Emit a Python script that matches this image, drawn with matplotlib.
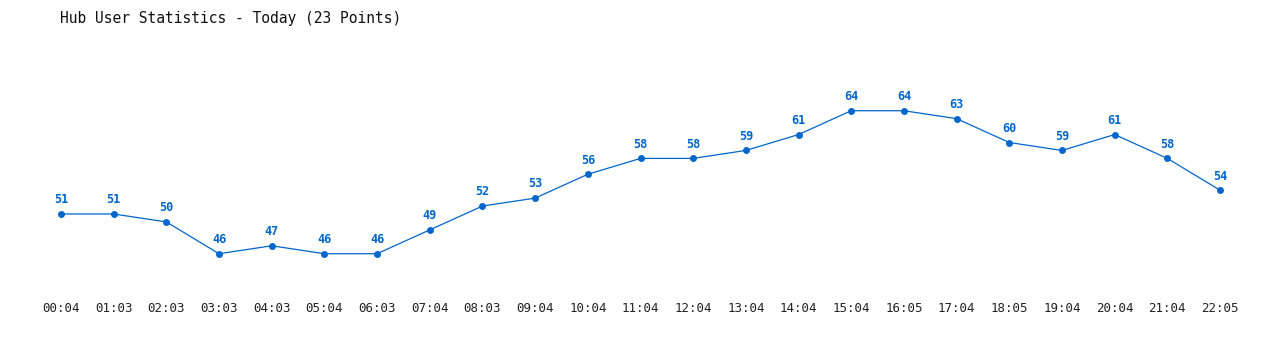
import matplotlib
matplotlib.use("Agg")
import matplotlib.pyplot as plt
import matplotlib.transforms as mtransforms

times = ["00:04", "01:03", "02:03", "03:03", "04:03", "05:04", "06:03", "07:04",
         "08:03", "09:04", "10:04", "11:04", "12:04", "13:04", "14:04", "15:04",
         "16:05", "17:04", "18:05", "19:04", "20:04", "21:04", "22:05"]
users = [51, 51, 50, 46, 47, 46, 46, 49, 52, 53, 56, 58, 58, 59, 61, 64, 64, 63,
         60, 59, 61, 58, 54]
title = "Hub User Statistics - Today (23 Points)"

color = "#0066CC"
W, H = 1280, 350
fig = plt.figure(figsize=(W / 100, H / 100), dpi=100)
ax = fig.add_axes([0, 0, 1, 1])

x0_px, dx_px = 61, (1220 - 61) / 22
y51_px, dy_px = 214, (254 - 111) / 18
ax.set_xlim(-x0_px / dx_px, (W - x0_px) / dx_px)
ax.set_ylim(51 - (H - y51_px) / dy_px, 51 + y51_px / dy_px)
ax.axis("off")

xs = list(range(len(users)))
ax.plot(xs, users, color=color, linewidth=0.9, marker="o", markersize=5,
        markeredgewidth=0)

for x, v in zip(xs, users):
    ax.annotate(str(v), (x, v), xytext=(0, 5.5), textcoords="offset points",
                ha="center", va="bottom", color=color, fontsize=8.5,
                fontweight="bold", family="DejaVu Sans Mono")

trans = mtransforms.blended_transform_factory(ax.transData, fig.transFigure)
for x, t in zip(xs, times):
    ax.text(x, 1 - 308 / H, t, transform=trans, ha="center", va="center",
            fontsize=9, color="#222222", family="DejaVu Sans Mono")

fig.text(60 / W, 1 - 18 / H, title, ha="left", va="center", fontsize=10.5,
         color="#111111", family="DejaVu Sans Mono")

fig.savefig("out.png", dpi=100, facecolor="white")
